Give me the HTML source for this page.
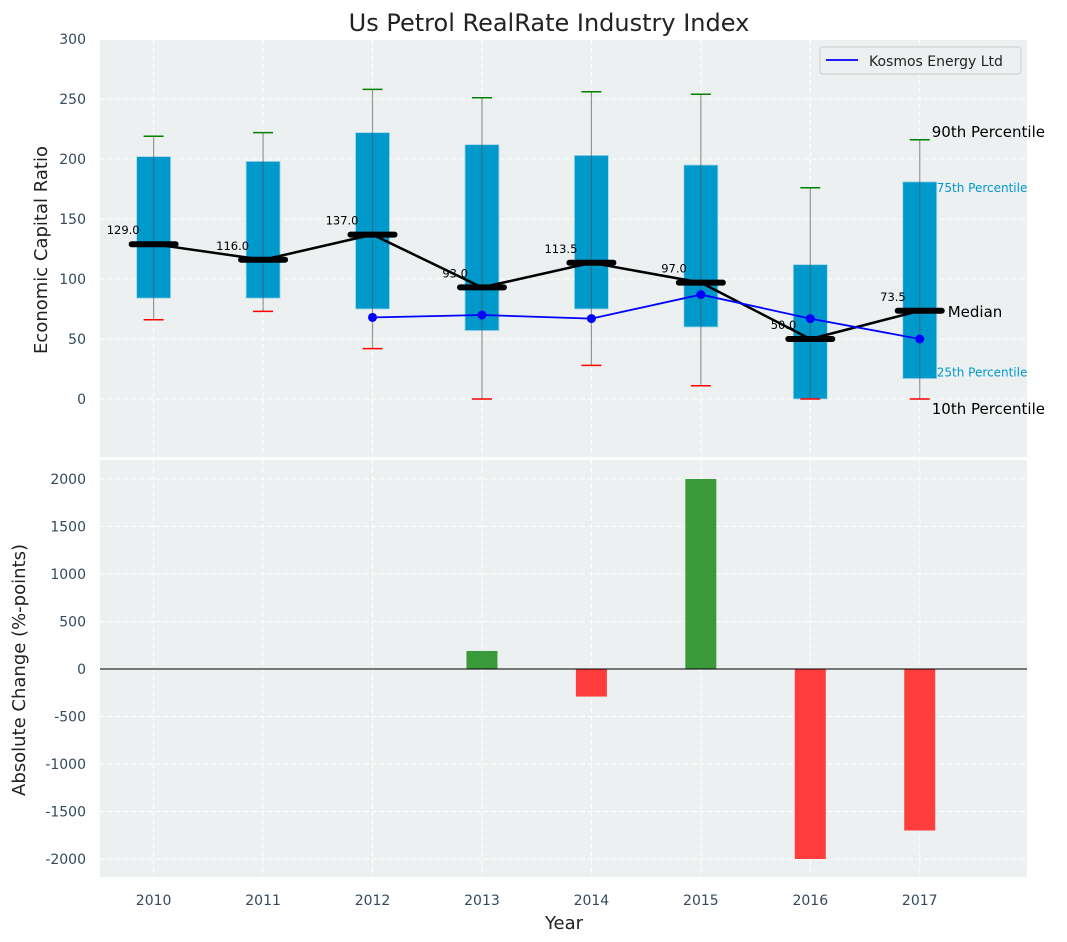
<!DOCTYPE html>
<html><head><meta charset="utf-8"><style>
body{margin:0;background:#fff;}
svg{display:block;font-family:"DejaVu Sans","Liberation Sans",sans-serif;}
</style></head><body>
<svg id="c" width="1067" height="942" viewBox="0 0 1067 942"></svg>
<script>
const years=["2010","2011","2012","2013","2014","2015","2016","2017"];
const p10=[66,73,42,0,28,11,0,0];
const p25=[84,84,75,57,75,60,0,17];
const med=[129,116,137,93,113.5,97,50,73.5];
const p75=[202,198,222,212,203,195,112,181];
const p90=[219,222,258,251,256,254,176,216];
const kosmos=[null,null,68,70,67,87,67,50];
const change=[0,0,0,190,-290,2000,-2000,-1700];
const topTicks=[0,50,100,150,200,250,300];
const botTicks=[-2000,-1500,-1000,-500,0,500,1000,1500,2000];

const NS="http://www.w3.org/2000/svg";
const svg=document.getElementById('c');
function el(t,a,p){const e=document.createElementNS(NS,t);for(const k in a)e.setAttribute(k,a[k]);(p||svg).appendChild(e);return e;}
const L=100,R=1027;
const x=i=>L+(i+0.49)*(R-L)/8.47;
const yT=v=>399-v*1.2;
const yB=v=>669-v*0.095;
const T1=40,B1=457,T2=460,B2=877;

let e=el('rect',{x:L,y:T1,width:R-L,height:B1-T1,fill:'#ecf0f1'});

e=el('rect',{x:L,y:T2,width:R-L,height:B2-T2,fill:'#ecf0f1'});


topTicks.forEach(v=>{
 el('line',{x1:L,x2:R,y1:yT(v),y2:yT(v),stroke:'#fff','stroke-dasharray':'5,3','stroke-width':1});
 e=el('text',{x:L-14,y:yT(v)+5,'text-anchor':'end','font-size':14,fill:'#34495e'});e.textContent=v;
 
});
botTicks.forEach(v=>{
 el('line',{x1:L,x2:R,y1:yB(v),y2:yB(v),stroke:'#fff','stroke-dasharray':'5,3','stroke-width':1});
 e=el('text',{x:L-14,y:yB(v)+5,'text-anchor':'end','font-size':14,fill:'#34495e'});e.textContent=v;
 
});
years.forEach((yr,i)=>{
 el('line',{x1:x(i),x2:x(i),y1:T1,y2:B1,stroke:'#fff','stroke-dasharray':'5,3'});
 el('line',{x1:x(i),x2:x(i),y1:T2,y2:B2,stroke:'#fff','stroke-dasharray':'5,3'});
 e=el('text',{x:x(i),y:905,'text-anchor':'middle','font-size':14,fill:'#34495e'});e.textContent=yr;
 
});

years.forEach((yr,i)=>{
 const cx=x(i);
 e=el('rect',{x:cx-17,y:yT(p75[i]),width:34,height:yT(p25[i])-yT(p75[i]),fill:'#0099cc',stroke:'#a8d8ea','stroke-width':0.8});
 
 e=el('line',{x1:cx,x2:cx,y1:yT(p90[i]),y2:yT(p10[i]),stroke:'#555','stroke-opacity':0.6,'stroke-width':1.2});
 
 e=el('line',{x1:cx-10,x2:cx+10,y1:yT(p90[i]),y2:yT(p90[i]),stroke:'#008000','stroke-width':1.5});
 
 e=el('line',{x1:cx-10,x2:cx+10,y1:yT(p10[i]),y2:yT(p10[i]),stroke:'#ff0000','stroke-width':1.5});
 
});
e=el('polyline',{points:med.map((v,i)=>x(i)+','+yT(v)).join(' '),fill:'none',stroke:'#000','stroke-width':2.5});

med.forEach((v,i)=>{
 e=el('line',{x1:x(i)-22,x2:x(i)+22,y1:yT(v),y2:yT(v),stroke:'#000','stroke-width':6,'stroke-linecap':'round'});
 
 e=el('text',{x:x(i)-14,y:yT(v)-10,'text-anchor':'end','font-size':11.5,fill:'#000'});e.textContent=v.toFixed(1);
 
});
const kp=[];kosmos.forEach((v,i)=>{if(v!==null)kp.push(x(i)+','+yT(v));});
e=el('polyline',{points:kp.join(' '),fill:'none',stroke:'#0000ff','stroke-width':1.8});

kosmos.forEach((v,i)=>{if(v===null)return;
 e=el('circle',{cx:x(i),cy:yT(v),r:4.5,fill:'#0000ff'});
 
});
const li=7,lx=x(li);
[[p90[li],'90th Percentile',15,'#000',12,-3],[p75[li],'75th Percentile',12,'#0099cc',17,10],[med[li],'Median',15,'#000',28,6],[p25[li],'25th Percentile',12,'#0099cc',17,-2],[p10[li],'10th Percentile',15,'#000',12,15]].forEach(a=>{
 e=el('text',{x:lx+a[4],y:yT(a[0])+a[5],'font-size':a[2],fill:a[3]});e.textContent=a[1];
 
});
const lg=el('g',{});
el('rect',{x:820,y:47,width:201,height:27,rx:3,fill:'#ecf0f1',stroke:'#ccc'},lg);
el('line',{x1:826,x2:858,y1:60,y2:60,stroke:'#0000ff','stroke-width':1.8},lg);
e=el('text',{x:869,y:66,'font-size':14,fill:'#222'},lg);e.textContent='Kosmos Energy Ltd';

change.forEach((v,i)=>{
 if(v===0)return;
 e=el('rect',{x:x(i)-15.5,y:Math.min(yB(v),yB(0)),width:31,height:Math.abs(yB(v)-yB(0)),fill:v>0?'#3a9a3a':'#ff3d3d'});
 
});
e=el('line',{x1:L,x2:R,y1:yB(0),y2:yB(0),stroke:'#000','stroke-width':1});


e=el('text',{x:549,y:31,'text-anchor':'middle','font-size':24,fill:'#222'});e.textContent='Us Petrol RealRate Industry Index';

e=el('text',{x:47,y:250,'text-anchor':'middle','font-size':18,fill:'#222',transform:'rotate(-90 47 250)'});e.textContent='Economic Capital Ratio';

e=el('text',{x:25,y:670,'text-anchor':'middle','font-size':18,fill:'#222',transform:'rotate(-90 25 670)'});e.textContent='Absolute Change (%-points)';

e=el('text',{x:564,y:929,'text-anchor':'middle','font-size':18,fill:'#222'});e.textContent='Year';

</script>
</body></html>
